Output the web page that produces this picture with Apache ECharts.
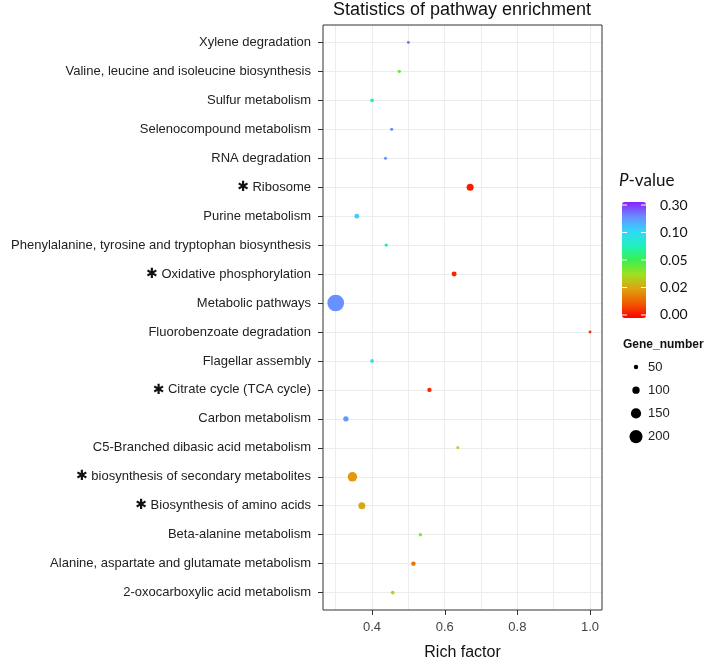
<!DOCTYPE html>
<html>
<head>
<meta charset="utf-8">
<script src="https://cdn.jsdelivr.net/npm/echarts@6/dist/echarts.min.js"></script>
<style>
html,body{margin:0;padding:0;background:#fff;}
#chart{width:709px;height:658px;}
</style>
</head>
<body>
<div id="chart"></div>
<script>
// ---- data (top to bottom as shown) ----
const categories = [
  'Xylene degradation',
  'Valine, leucine and isoleucine biosynthesis',
  'Sulfur metabolism',
  'Selenocompound metabolism',
  'RNA degradation',
  'Ribosome',
  'Purine metabolism',
  'Phenylalanine, tyrosine and tryptophan biosynthesis',
  'Oxidative phosphorylation',
  'Metabolic pathways',
  'Fluorobenzoate degradation',
  'Flagellar assembly',
  'Citrate cycle (TCA cycle)',
  'Carbon metabolism',
  'C5-Branched dibasic acid metabolism',
  'biosynthesis of secondary metabolites',
  'Biosynthesis of amino acids',
  'Beta-alanine metabolism',
  'Alanine, aspartate and glutamate metabolism',
  '2-oxocarboxylic acid metabolism'
];
const starred = [false,false,false,false,false,true,false,false,true,false,false,false,true,false,false,true,true,false,false,false];
const richFactor = [0.500,0.475,0.400,0.454,0.437,0.670,0.358,0.439,0.626,0.300,1.000,0.400,0.558,0.328,0.636,0.346,0.372,0.533,0.514,0.457];
const pValue     = [0.24,0.041,0.075,0.22,0.20,0.001,0.12,0.07,0.002,0.21,0.004,0.09,0.003,0.20,0.032,0.018,0.021,0.038,0.012,0.032];
const geneNumber = [25,33,38,28,28,95,55,33,60,262,25,38,50,67,25,138,95,33,50,38];

const pBreaks = [0, 0.02, 0.05, 0.10, 0.30];
const pLabels = ['0.00', '0.02', '0.05', '0.10', '0.30'];
const sizeLegendValues = [50, 100, 150, 200];
const xTickValues = [0.4, 0.6, 0.8, 1.0];
const xGridValues = [0.3, 0.4, 0.5, 0.6, 0.7, 0.8, 0.9, 1.0];

// ---- helpers ----
function pToT(p) { // piecewise-linear position on the colour bar
  for (let i = 0; i < pBreaks.length - 1; i++) {
    if (p <= pBreaks[i + 1]) return i + (p - pBreaks[i]) / (pBreaks[i + 1] - pBreaks[i]);
  }
  return pBreaks.length - 1;
}
function sizeOf(n) { return 1.5 + 0.058 * n; }

const colorStops = ['#ff0000','#f05a00','#e0a010','#a0e020','#38f050','#20f0c0','#30d8f8','#6a8cff','#8a20ff'];
const vmMin = -0.11, vmMax = 4.11;

const rowIndex = categories.map((c, i) => i);
const seriesData = categories.map((c, i) => [richFactor[i], i, pToT(pValue[i]), geneNumber[i]]);

const chart = echarts.init(document.getElementById('chart'), null, {renderer: 'canvas'});

const gridLeft = 323, gridTop = 25, gridRight = 107, gridBottom = 48;
const barLeft = 622, barTop = 202, barW = 24, barH = 116;

const graphics = [];
graphics.push({type: 'text', style: {text: 'Statistics of pathway enrichment', x: 462, y: 10, align: 'center', verticalAlign: 'middle', font: '18px "Liberation Sans", Arial, sans-serif', fill: '#111'}});
graphics.push({type: 'text', style: {text: '{i|P}-value', x: 619, y: 181, verticalAlign: 'middle', font: '17px Lato, sans-serif', fill: '#111', rich: {i: {fontStyle: 'italic', fontSize: 17, fontFamily: 'Lato'}}}});
pLabels.forEach((lab, i) => {
  const y = barTop + (vmMax - i) / (vmMax - vmMin) * barH;
  graphics.push({type: 'text', style: {text: lab, x: 660, y: y, verticalAlign: 'middle', font: '14px Lato, sans-serif', fill: '#111'}});
  graphics.push({type: 'line', shape: {x1: barLeft, y1: y, x2: barLeft + 5, y2: y}, style: {stroke: '#fff', lineWidth: 1}, z: 100});
  graphics.push({type: 'line', shape: {x1: barLeft + barW - 5, y1: y, x2: barLeft + barW, y2: y}, style: {stroke: '#fff', lineWidth: 1}, z: 100});
});
graphics.push({type: 'text', style: {text: 'Gene_number', x: 623, y: 345, verticalAlign: 'middle', font: 'bold 12px "Liberation Sans", Arial, sans-serif', fill: '#111'}});
sizeLegendValues.forEach((v, i) => {
  const y = 367 + i * 23.2;
  graphics.push({type: 'circle', shape: {cx: 636, cy: y, r: sizeOf(v) / 2}, style: {fill: '#000'}});
  graphics.push({type: 'text', style: {text: String(v), x: 648, y: y, verticalAlign: 'middle', font: '13px "Liberation Sans", Arial, sans-serif', fill: '#222'}});
});

const option = {
  animation: false,
  backgroundColor: '#fff',
  grid: {left: gridLeft, top: gridTop, right: gridRight, bottom: gridBottom, outerBoundsMode: 'none', containLabel: false, show: true, borderColor: '#333', borderWidth: 1, backgroundColor: 'transparent', z: 10},
  xAxis: {
    type: 'value', min: 0.265, max: 1.033,
    name: 'Rich factor', nameLocation: 'middle', nameGap: 35,
    nameTextStyle: {fontSize: 16, color: '#111', fontFamily: 'Liberation Sans'},
    axisLine: {show: false},
    axisTick: {show: true, inside: false, length: 5, lineStyle: {color: '#333', width: 1}, customValues: xTickValues},
    axisLabel: {fontSize: 13, color: '#444', fontFamily: 'Liberation Sans', margin: 11, customValues: xTickValues, formatter: v => v.toFixed(1)},
    splitLine: {show: false}
  },
  yAxis: {
    type: 'value', min: -0.6, max: categories.length - 0.4, inverse: true,
    axisLine: {show: false},
    axisTick: {show: true, length: 5, lineStyle: {color: '#333'}, customValues: rowIndex},
    axisLabel: {
      fontSize: 13, color: '#222', fontFamily: 'Liberation Sans', margin: 12,
      customValues: rowIndex,
      formatter: v => {
        const i = Math.round(v);
        return starred[i] ? '{s|✱} ' + categories[i] : categories[i];
      },
      rich: {s: {fontSize: 14, fontWeight: 'bold', color: '#111', fontFamily: 'DejaVu Sans'}}
    },
    splitLine: {show: false}
  },
  visualMap: {
    type: 'continuous', dimension: 2, seriesIndex: 0,
    min: vmMin, max: vmMax, calculable: false, show: true,
    left: barLeft, top: barTop, itemWidth: barW, itemHeight: barH, padding: 0,
    text: null, showLabel: false,
    inRange: {color: colorStops}
  },
  series: [
    {
      type: 'scatter', z: 5,
      data: seriesData,
      symbolSize: v => sizeOf(v[3]),
      itemStyle: {opacity: 1}
    },
    {
      type: 'scatter', z: 1, data: [], silent: true,
      markLine: {
        z: 1, silent: true, symbol: 'none', animation: false,
        label: {show: false},
        lineStyle: {color: '#ececec', width: 1, type: 'solid'},
        data: xGridValues.map(v => ({xAxis: v})).concat(rowIndex.map(i => ({yAxis: i})))
      }
    }
  ],
  graphic: graphics
};
chart.setOption(option);

// x-axis tick marks placed through the axis scale
const bottomY = 658 - gridBottom;
const tickGraphics = xTickValues.map(v => {
  const px = Math.round(chart.convertToPixel({xAxisIndex: 0}, v)) + 0.5;
  return {type: 'line', shape: {x1: px, y1: bottomY, x2: px, y2: bottomY + 5}, style: {stroke: '#333', lineWidth: 1}, z: 100};
});
chart.setOption({graphic: graphics.concat(tickGraphics)});
</script>
</body>
</html>
